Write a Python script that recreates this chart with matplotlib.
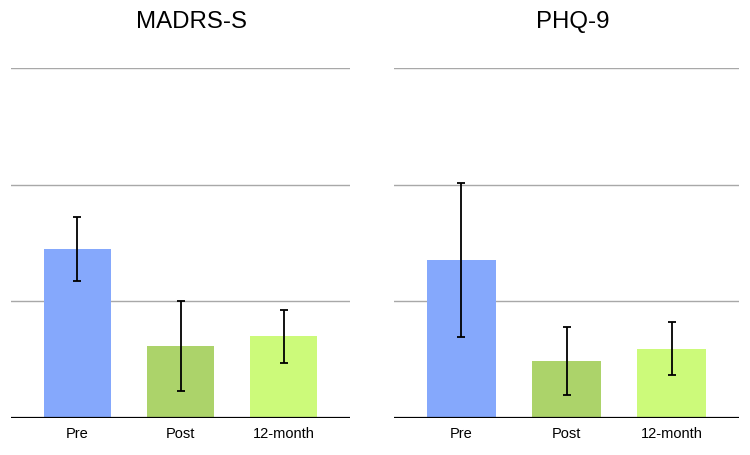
import matplotlib
matplotlib.use("Agg")
import matplotlib.pyplot as plt

categories = ["Pre", "Post", "12-month"]
titles = ["MADRS-S", "PHQ-9"]
madrs_means = [14.5, 6.2, 7.0]
madrs_err = [2.73, 3.85, 2.27]
phq_means = [13.55, 4.9, 5.95]
phq_err = [6.6, 2.9, 2.27]
colors = ["#85a8fc", "#acd36a", "#ccfa7a"]
gridvals = [10, 20, 30]

plt.rcParams['font.family'] = ['Liberation Sans', 'DejaVu Sans']

W, H = 750, 455
fig = plt.figure(figsize=(7.5, 4.55), dpi=100)

panels = [
    (madrs_means, madrs_err, (11, 350), 192),
    (phq_means, phq_err, (394, 739), 573),
]
top_px, bot_px = 68, 418
for (means, errs, (x0, x1), tx), title in zip(panels, titles):
    ax = fig.add_axes([x0 / W, 1 - bot_px / H, (x1 - x0) / W, (bot_px - top_px) / H])
    x = list(range(len(categories)))
    for g in gridvals:
        ax.axhline(g, color="#a8a8a8", lw=1.0, zorder=0)
    ax.bar(x, means, width=0.65, color=colors, zorder=2)
    ax.errorbar(x, means, yerr=errs, fmt="none", ecolor="black", elinewidth=1.3,
                capsize=3.2, capthick=1.3, zorder=3)
    ax.axhline(0, color="black", lw=1.6, zorder=4)
    ax.set_xlim(-0.64, 2.64)
    ax.set_ylim(0, 30)
    ax.set_xticks(x)
    ax.set_xticklabels(categories, fontsize=10.5)
    ax.tick_params(axis="x", length=0, pad=6.5)
    ax.set_yticks([])
    for s in ax.spines.values():
        s.set_visible(False)
    ax.patch.set_alpha(0)
    fig.text(tx / W, 1 - 22 / H, title, ha="center", va="center", fontsize=17.3)

fig.savefig("out.png", dpi=100)
